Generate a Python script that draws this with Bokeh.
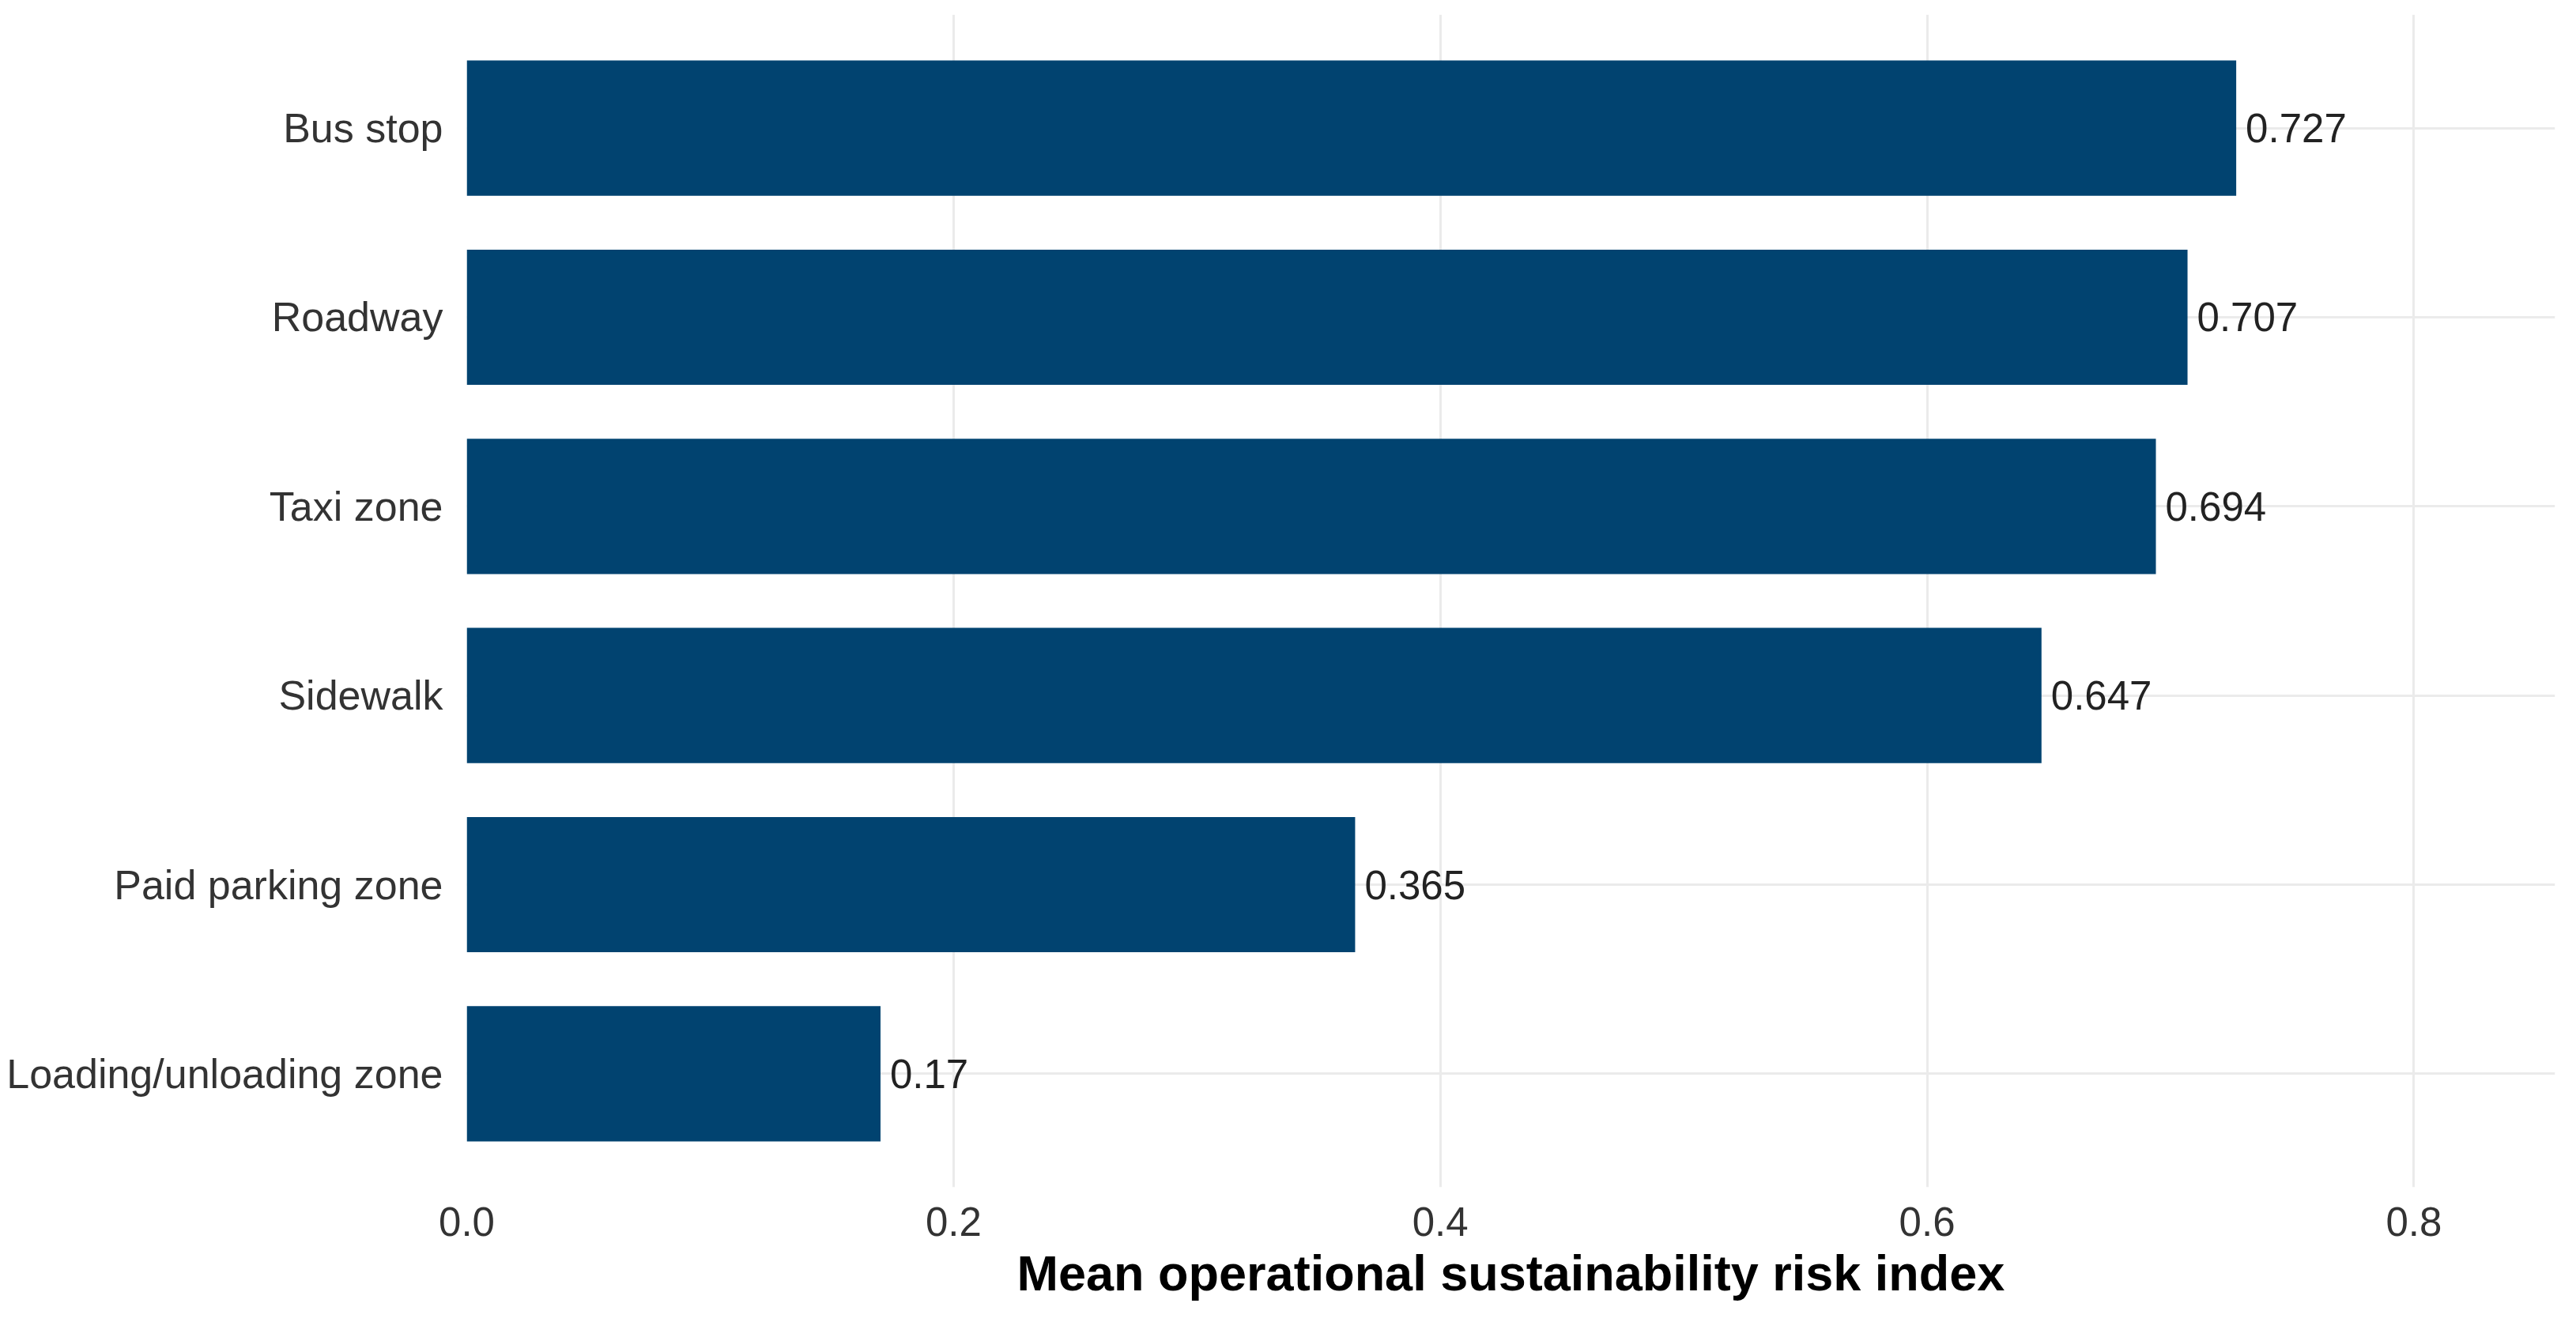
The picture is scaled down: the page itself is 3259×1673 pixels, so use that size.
from bokeh.plotting import figure
from bokeh.models import ColumnDataSource, FactorRange, Range1d, FixedTicker
from bokeh.embed import file_html
from bokeh.resources import INLINE
from bokeh.core.properties import value

categories = ["Bus stop", "Roadway", "Taxi zone", "Sidewalk",
              "Paid parking zone", "Loading/unloading zone"]
values = [0.727, 0.707, 0.694, 0.647, 0.365, 0.17]
x_ticks = [0.0, 0.2, 0.4, 0.6, 0.8]
x_tick_labels = ["0.0", "0.2", "0.4", "0.6", "0.8"]
x_title = "Mean operational sustainability risk index"

BAR = "#014370"
FONT = "Liberation Sans"

src = ColumnDataSource(dict(
    cat=categories,
    val=values,
    lab=[f"{v:g}" for v in values],
))

p = figure(
    width=3243, height=1657,
    y_range=FactorRange(factors=list(reversed(categories)),
                        range_padding=0.1, range_padding_units="absolute"),
    x_range=Range1d(0, 0.858),
    output_backend="svg", toolbar_location=None,
    min_border_left=590, min_border_right=11,
    min_border_top=18, min_border_bottom=155,
)
p.outline_line_color = None
p.background_fill_color = "white"
p.border_fill_color = "white"

p.hbar(y="cat", right="val", left=0, height=0.715, source=src,
       fill_color=BAR, line_color=None)

p.text(x="val", y="cat", text="lab", source=src, x_offset=12,
       text_align="left", text_baseline="middle",
       text_font=value(FONT), text_font_size="51px", text_color="#222222")

# grids
p.xgrid.ticker = FixedTicker(ticks=x_ticks)
p.xgrid.grid_line_color = "#ebebeb"
p.xgrid.grid_line_width = 3
p.ygrid.grid_line_color = "#ebebeb"
p.ygrid.grid_line_width = 3

# x axis
xa = p.xaxis[0]
xa.ticker = FixedTicker(ticks=x_ticks)
xa.major_label_overrides = {t: l for t, l in zip(x_ticks, x_tick_labels)}
xa.axis_line_color = None
xa.major_tick_line_color = None
xa.minor_tick_line_color = None
xa.major_tick_out = 0
xa.major_tick_in = 0
xa.major_label_standoff = 25
xa.major_label_text_font = FONT
xa.major_label_text_font_size = "51px"
xa.major_label_text_color = "#333333"
xa.axis_label = x_title
xa.axis_label_text_font = FONT
xa.axis_label_text_font_style = "bold"
xa.axis_label_text_font_size = "63px"
xa.axis_label_text_color = "#000000"
xa.axis_label_standoff = 9

# y axis
ya = p.yaxis[0]
ya.axis_line_color = None
ya.major_tick_line_color = None
ya.minor_tick_line_color = None
ya.major_tick_out = 0
ya.major_tick_in = 0
ya.major_label_standoff = 30
ya.major_label_text_font = FONT
ya.major_label_text_font_size = "52px"
ya.major_label_text_color = "#333333"

open("out.html", "w").write(file_html(p, INLINE))
